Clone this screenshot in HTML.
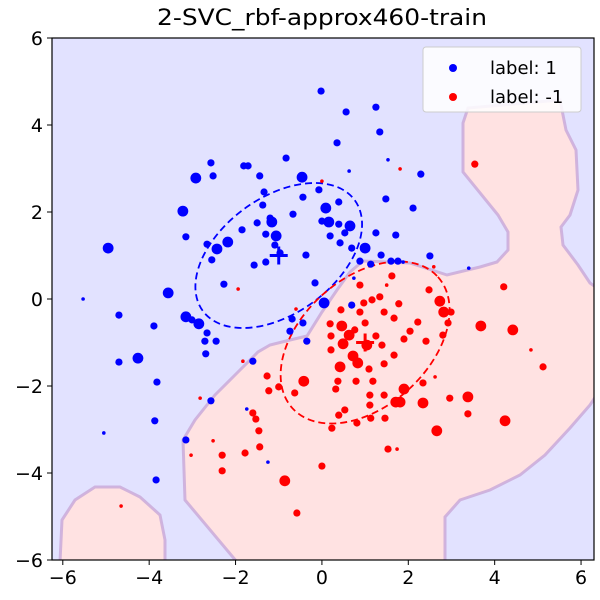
<!DOCTYPE html>
<html><head><meta charset="utf-8"><style>
html,body{margin:0;padding:0;background:#fff;}
svg{display:block;font-family:"DejaVu Sans","Liberation Sans",sans-serif;}
</style></head><body>
<svg id="chart" width="600" height="600" viewBox="0 0 600 600">
<text x="322" y="25" font-size="22" text-anchor="middle" textLength="330" lengthAdjust="spacingAndGlyphs">2-SVC_rbf-approx460-train</text>
<clipPath id="pc"><rect x="52" y="38" width="542" height="522"/></clipPath>
<rect x="52" y="38" width="542" height="522" fill="#e2e2ff"/>
<g clip-path="url(#pc)">
<path fill="#ffe2e2" stroke="#c8a8d8" stroke-width="3" stroke-opacity="0.8"
d="M237,562 L185,500 L183,440 L195,420 L215,395 L235,375 L258,352 L270,345 L290,340 L307,336 L322,312 L337,290 L350,272 L363,261 L410,263 L447,275 L480,267 L497,262 L508,250 L508,232 L498,215 L463,172 L463,123 L468,108 L560,100 L566,130 L576,150 L578,190 L570,215 L561,227 L563,245 L578,265 L590,283 L600,290 L600,390 L590,405 L570,428 L545,455 L520,475 L490,490 L460,500 L445,517 L445,562 Z"/>
<path fill="#ffe2e2" stroke="#c8a8d8" stroke-width="3" stroke-opacity="0.8"
d="M60,562 L62,520 L75,500 L95,487 L120,487 L140,497 L160,515 L165,540 L165,562 Z"/>
</g>
<g id="marks" clip-path="url(#pc)"></g>
<rect x="52" y="38" width="542" height="522" fill="none" stroke="#000" stroke-width="1.2"/>
<g id="axes"></g>
<g>
<rect x="423" y="47" width="158" height="65" rx="3" fill="#fff" fill-opacity="0.85" stroke="#ccc"/>
<circle cx="453" cy="68" r="4" fill="#0000ff"/>
<text x="490" y="74" font-size="18">label: 1</text>
<circle cx="453" cy="97" r="4" fill="#ff0000"/>
<text x="490" y="103" font-size="18">label: -1</text>
</g>
</svg>
<script>
const xTicks=[-6,-4,-2,0,2,4,6];
const yTicks=[-6,-4,-2,0,2,4,6];
const blueX=[-0.02,0.56,1.25,0.35,1.34,1.53,2.29,0.63,1.48,2.11,1.71,1.60,2.50,3.40,-0.44,-0.07,0.09,0.16,0,0.39,0.19,0.65,0.39,-0.46,-0.83,-1.44,-1.81,-1.71,-2.57,-2.52,-2.92,-1.34,-1.37,-0.67,-1.20,-1.16,-1.50,-1.06,-1.85,-1.30,-1.09,-0.97,-1.30,-1.57,-2.18,-2.43,-2.66,-2.55,-2.27,-3.22,-3.15,-4.95,-5.53,-4.70,-3.89,-3.56,-3.82,-4.26,-4.70,-3.15,-2.85,-3.01,-2.71,-2.45,-2.69,-2.66,-3.15,-3.87,-3.84,-5.05,-2.57,-1.74,-1.60,-1.25,-0.69,-0.74,-0.44,-0.35,0.05,-0.16,-0.37,0.42,0.53,1.00,1.13,1.37,1.25,0.74,0.88,1.76,1.88,0.69,0.69,0.69];
const blueY=[4.78,4.30,4.41,3.59,3.84,3.20,2.87,2.94,2.30,2.09,1.47,0.87,0.99,0.71,2.34,2.51,2.09,1.77,1.79,1.72,1.45,1.68,2.23,2.80,3.24,2.83,3.06,3.06,3.13,2.83,2.78,2.46,2.16,1.95,1.86,1.77,1.75,1.45,1.59,1.49,1.24,1.06,0.85,0.78,1.31,1.15,1.26,0.90,0.34,2.02,1.43,1.17,0,-0.37,-0.62,0.14,-1.91,-1.36,-1.45,-0.41,-0.57,-0.48,-0.97,-0.97,-1.26,-0.78,-3.24,-2.80,-4.16,-3.08,-2.34,-2.53,-1.43,-3.75,-0.46,-0.74,-0.55,-0.97,-0.09,0.37,1.01,1.29,1.52,1.17,0.80,1.01,1.52,0.48,0.87,0.87,0.85,-0.14,-0.76,1.17];
const blueS=[2,2,2,2,2,1,2,1,2,2,2,2,2,1,2,2,3,3,2,2,2,3,2,3,2,2,2,2,2,2,3,2,2,2,2,3,2,3,2,2,2,2,2,2,3,3,2,2,2,3,2,3,1,2,2,3,2,3,2,3,3,2,2,2,2,2,2,2,2,1,2,1,2,1,2,2,2,2,3,2,2,2,2,3,2,2,2,1,2,2,1,2,1,2];
const redX=[3.54,1.81,0,2.59,4.21,2.48,1.78,1.62,1.50,0.88,0.97,1.34,1.16,0.44,0.19,0.21,0.21,0.46,0.49,0.63,0.72,0.76,0.88,1.00,1.25,1.04,1.44,1.67,1.39,1.67,2.04,1.90,2.22,2.41,2.73,2.82,2.99,2.92,2.80,3.68,4.42,4.84,5.12,1.44,1.18,1.11,1.11,1.44,1.90,1.81,1.71,1.46,1.13,0.79,0.83,0.42,0.32,0.23,0.53,0.39,0.81,1.74,1.53,1.09,0.37,-0.42,-0.63,-1.00,-1.27,-1.23,-1.60,-1.53,-1.46,-1.44,-1.78,-2.31,-2.31,-2.52,-2.82,-3.03,-0.86,-0.58,0,2.66,3.38,2.34,2.34,2.62,2.96,3.38,4.24,-4.65,-1.94,-0.60,-1.83];
const redY=[3.10,2.99,2.71,0.74,0.28,0.21,-0.11,0.53,0.32,0.32,-0.09,0.05,-0.02,-0.25,-0.57,-0.85,-1.17,-0.62,-1.03,-0.83,-1.31,-0.71,-0.30,-0.55,-0.85,-1.06,-0.30,-0.44,-1.06,-1.29,-0.74,-0.92,-0.53,-0.97,-0.05,-0.30,-0.30,-0.55,-0.83,-0.62,-0.71,-1.17,-1.56,-1.49,-1.89,-2.21,-2.44,-2.21,-2.07,-2.37,-2.37,-2.74,-2.74,-1.89,-1.47,-1.56,-2.07,-2.97,-2.55,-2.67,-2.85,-3.45,-3.45,-1.61,-1.89,-1.89,-2.16,-2.02,-1.77,-2.11,-2.62,-2.76,-3.03,-3.40,-3.54,-3.59,-3.95,-3.26,-2.28,-3.59,-4.18,-4.92,-3.84,-3.03,-2.64,-2.39,-1.93,-1.79,-2.28,-2.25,-2.80,-4.76,0.23,-0.23,-1.43];
const redS=[2,1,1,1,2,2,2,2,1,2,2,2,2,2,2,2,2,3,3,3,3,2,2,2,2,3,2,2,2,2,2,2,2,2,3,3,2,2,2,3,3,1,2,2,2,2,2,2,3,3,3,2,2,2,3,3,2,2,2,2,2,1,2,2,2,3,2,2,2,2,2,2,2,2,2,2,2,1,1,1,3,2,2,3,2,3,2,1,2,3,3,1,1,1,1];
const blueMean=[-1.0,1.0], redMean=[1.0,-1.0];
const sizeR=[0,1.8,3.6,5.4];
const NS='http://www.w3.org/2000/svg';
const X0=52,X1=594,Y0=38,Y1=560,xmin=-6.25,xmax=6.3,ymin=-6,ymax=6;
function sx(v){return X0+(v-xmin)/(xmax-xmin)*(X1-X0);}
function sy(v){return Y1-(v-ymin)/(ymax-ymin)*(Y1-Y0);}
const marks=document.getElementById('marks'), axes=document.getElementById('axes');
function mk(tag,attrs,parent){const e=document.createElementNS(NS,tag);for(const k in attrs)e.setAttribute(k,attrs[k]);parent.appendChild(e);return e;}
xTicks.forEach(t=>{
  const l=mk('line',{x1:sx(t),x2:sx(t),y1:Y1,y2:Y1+5,stroke:'#000'},axes);
  
  
  const tx=mk('text',{x:sx(t),y:Y1+24,'font-size':19,'text-anchor':'middle'},axes);
  tx.textContent=t<0?'\u2212'+(-t):String(t);
  
  
});
yTicks.forEach(t=>{
  const l=mk('line',{x1:X0-5,x2:X0,y1:sy(t),y2:sy(t),stroke:'#000'},axes);
  
  
  const tx=mk('text',{x:X0-9,y:sy(t)+7,'font-size':19,'text-anchor':'end'},axes);
  tx.textContent=t<0?'\u2212'+(-t):String(t);
  
  
});
function ellipse(mean,rx,ry,ang,color,name){
  const e=mk('ellipse',{cx:sx(mean[0]),cy:sy(mean[1]),rx:rx,ry:ry,transform:`rotate(${ang} ${sx(mean[0])} ${sy(mean[1])})`,fill:'none',stroke:color,'stroke-width':1.8,'stroke-dasharray':'7,4'},marks);
  
  
}
ellipse(blueMean,94,58,-36,'#0000ff','covariance-ellipse-positive');
ellipse(redMean,98,64,-42,'#ff0000','covariance-ellipse-negative');
function pts(xs,ys,ss,color,name){
  xs.forEach((v,i)=>{
    const c=mk('circle',{cx:sx(v),cy:sy(ys[i]),r:sizeR[ss[i]||2],fill:color},marks);
    
    
  });
}
pts(blueX,blueY,blueS,'#0000ff','point-label-1');
pts(redX,redY,redS,'#ff0000','point-label-neg1');
function cross(mean,color,name){
  const g=mk('path',{d:`M${sx(mean[0])-9},${sy(mean[1])}h18M${sx(mean[0])},${sy(mean[1])-9}v18`,stroke:color,'stroke-width':3},marks);
  
  
}
cross(blueMean,'#0000ff','mean-marker-positive');
cross(redMean,'#ff0000','mean-marker-negative');
</script>
</body></html>
